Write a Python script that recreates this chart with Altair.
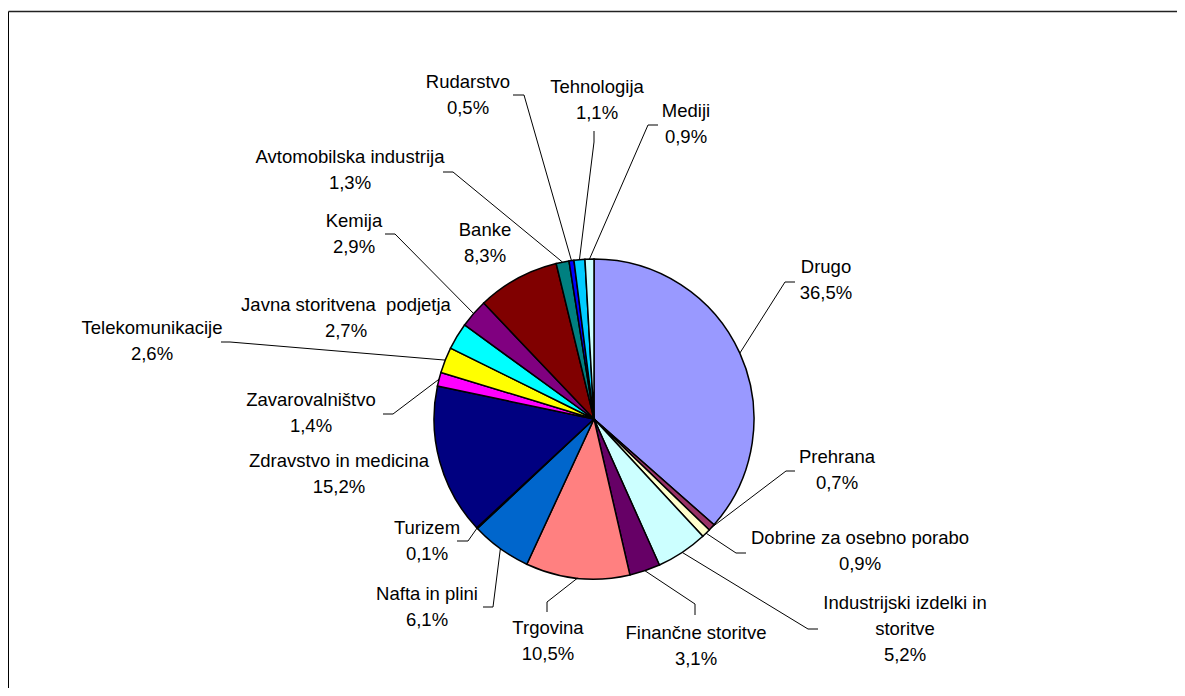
import math
import altair as alt
import pandas as pd

# ---------------- data ----------------
categories = [
    "Drugo", "Prehrana", "Dobrine za osebno porabo", "Industrijski izdelki in storitve",
    "Finančne storitve", "Trgovina", "Nafta in plini", "Turizem", "Zdravstvo in medicina",
    "Zavarovalništvo", "Telekomunikacije", "Javna storitvena  podjetja", "Kemija", "Banke",
    "Avtomobilska industrija", "Rudarstvo", "Tehnologija", "Mediji",
]
values = [36.5, 0.7, 0.9, 5.2, 3.1, 10.5, 6.1, 0.1, 15.2, 1.4, 2.6, 2.7, 2.9, 8.3, 1.3, 0.5, 1.1, 0.9]
colors = [
    "#9999FF", "#993366", "#FFFFCC", "#CCFFFF", "#660066", "#FF8080", "#0066CC", "#CCCCFF",
    "#000080", "#FF00FF", "#FFFF00", "#00FFFF", "#800080", "#800000", "#008080", "#0000FF",
    "#00CCFF", "#CCFFFF",
]
# how each category name wraps in its label
label_names = list(categories)
label_names[3] = "Industrijski izdelki in\nstoritve"
label_names[11] = "Javna storitvena\u00a0 podjetja"

# ---------------- layout (page pixel coordinates) ----------------
W, H = 1169, 680
CX, CY, R = 594, 419, 160
# centre x of each label, and centre y of its first line
label_x = [826, 837, 860, 905, 696, 548, 427, 427, 339, 311, 152, 346, 354, 485, 350, 468, 597, 686]
label_y = [267, 457, 538, 603, 633, 628, 594, 528, 461, 400, 328, 305, 221, 230, 157, 82, 87, 111]
# leader line: point next to the label, and elbow point (None = no leader line)
anchor = [(795, 282), (795, 471), (746, 553), (818, 629), (695, 615), (547, 612), (483, 607),
          (457, 541), None, (383, 414), (221, 342), None, (385, 234), None, (443, 172),
          (513, 95), (594, 131), (658, 125)]
elbow = [(785, 282), (786, 471), (736, 553), (808, 629), (695, 604), (547, 602), (493, 607),
         (468, 541), None, (393, 414), (230, 342), None, (395, 234), None, (453, 172),
         (524, 95), (594, 142), (648, 125)]

# ---------------- tables ----------------
total = sum(values)
pie_df = pd.DataFrame({"cat": categories, "value": values, "idx": range(len(values))})

def fmt(v):
    return f"{v:.1f}%".replace(".", ",")

text_df = pd.DataFrame({
    "cat": categories,
    "label": [f"{n}\n{fmt(v)}" for n, v in zip(label_names, values)],
    "x": label_x,
    "y": label_y,
})

rows = []
cum = 0.0
for c, v, a, e in zip(categories, values, anchor, elbow):
    mid = (cum + v / 2) / total * 2 * math.pi
    cum += v
    if a is None:
        continue
    ex, ey = CX + R * math.sin(mid), CY - R * math.cos(mid)
    for k, (px, py) in enumerate([a, e, (ex, ey)]):
        rows.append({"cat": c, "k": k, "x": px, "y": py})
line_df = pd.DataFrame(rows)

frame_df = pd.DataFrame({"x": [8.5], "y": [11.5], "x2": [8 + W], "y2": [8 + H]})

# ---------------- chart ----------------
xs = alt.Scale(domain=[8, 8 + W], nice=False, zero=False)
ys = alt.Scale(domain=[8, 8 + H], nice=False, zero=False, reverse=True)

frame_left = alt.Chart(frame_df).mark_rule(color="black", strokeWidth=1).encode(
    x=alt.X("x:Q", scale=xs, axis=None),
    y=alt.Y("y:Q", scale=ys, axis=None),
    y2="y2:Q",
)
frame_top = alt.Chart(frame_df).mark_rule(color="#222222", strokeWidth=1.5).encode(
    x=alt.X("x:Q", scale=xs, axis=None),
    x2="x2:Q",
    y=alt.Y("y:Q", scale=ys, axis=None),
)

pie = alt.Chart(pie_df).mark_arc(radius=R, stroke="black", strokeWidth=1.5).encode(
    theta=alt.Theta("value:Q", stack=True),
    color=alt.Color("cat:N", scale=alt.Scale(domain=categories, range=colors), legend=None),
    order=alt.Order("idx:Q"),
    x=alt.XDatum(CX, type="quantitative", scale=xs, axis=None),
    y=alt.YDatum(CY, type="quantitative", scale=ys, axis=None),
)

lines = alt.Chart(line_df).mark_line(color="black", strokeWidth=1).encode(
    x=alt.X("x:Q", scale=xs, axis=None),
    y=alt.Y("y:Q", scale=ys, axis=None),
    detail="cat:N",
    order="k:Q",
)

texts = alt.Chart(text_df).mark_text(
    font="Liberation Sans", fontSize=18.5, lineBreak="\n", lineHeight=26,
    align="center", baseline="middle", color="black",
).encode(
    x=alt.X("x:Q", scale=xs, axis=None),
    y=alt.Y("y:Q", scale=ys, axis=None),
    text="label:N",
)

chart = alt.layer(frame_left, frame_top, pie, lines, texts).properties(
    width=W, height=H, padding=0, autosize="none"
).configure_view(stroke=None)

chart.save("out.html", embed_options={"renderer": "svg", "actions": False})
